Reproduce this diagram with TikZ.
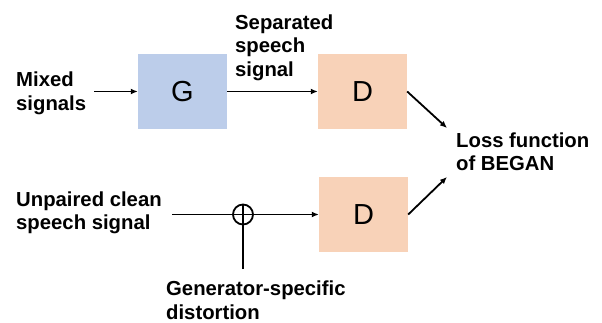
\documentclass[tikz,border=0pt]{standalone}
\usepackage{fontspec}
\setmainfont{Liberation Sans}
\usetikzlibrary{arrows.meta}
\definecolor{gblue}{HTML}{BCCDEA}
\definecolor{dpeach}{HTML}{F8D2B8}
\tikzset{
  lbl/.style={anchor=north west, inner sep=0pt, align=left, font=\bfseries\fontsize{20.3}{23.4}\selectfont},
  blk/.style={inner sep=0pt, minimum width=89pt, minimum height=75pt, font=\fontsize{29}{32}\selectfont},
  conn/.style={line width=1.8pt, -{Latex[length=7pt,width=6pt]}},
  plain/.style={line width=1.8pt},
}
\begin{document}
\begin{tikzpicture}[x=1pt,y=-1pt]
\useasboundingbox (0,0) rectangle (602,323);
\node[lbl] (mixed) at (16,72) {Mixed\\signals};
\node[lbl] (sep) at (235,14.5) {Separated\\speech\\signal};
\node[lbl] (loss) at (456,132.5) {Loss function\\of BEGAN};
\node[lbl] (unp) at (16,191.5) {Unpaired clean\\speech signal};
\node[lbl] (gen) at (166,281) {Generator-specific\\distortion};

\node[blk, fill=gblue] (G) at (182.5,91.5) {G};
\node[blk, fill=dpeach] (D1) at (362.5,91.5) {D};
\node[blk, fill=dpeach, minimum height=74pt] (D2) at (363.5,214.5) {D};

\node[circle, draw, line width=1.8pt, minimum size=20pt, inner sep=0pt] (sum) at (243,214.5) {};

\coordinate (min) at (94,91.5);
\coordinate (us) at (172,214.5);
\coordinate (gd) at (243,269);
\coordinate (l1) at (447,128);
\coordinate (l2) at (447,177);

\draw[conn] (min) -- (G.west);
\draw[conn] (G.east) -- (D1.west);
\draw[conn] (us) -- (D2.west);
\draw[plain] (gd) -- (sum.north);
\draw[conn] (D1.east) -- (l1);
\draw[conn] (D2.east) -- (l2);
\end{tikzpicture}
\end{document}
